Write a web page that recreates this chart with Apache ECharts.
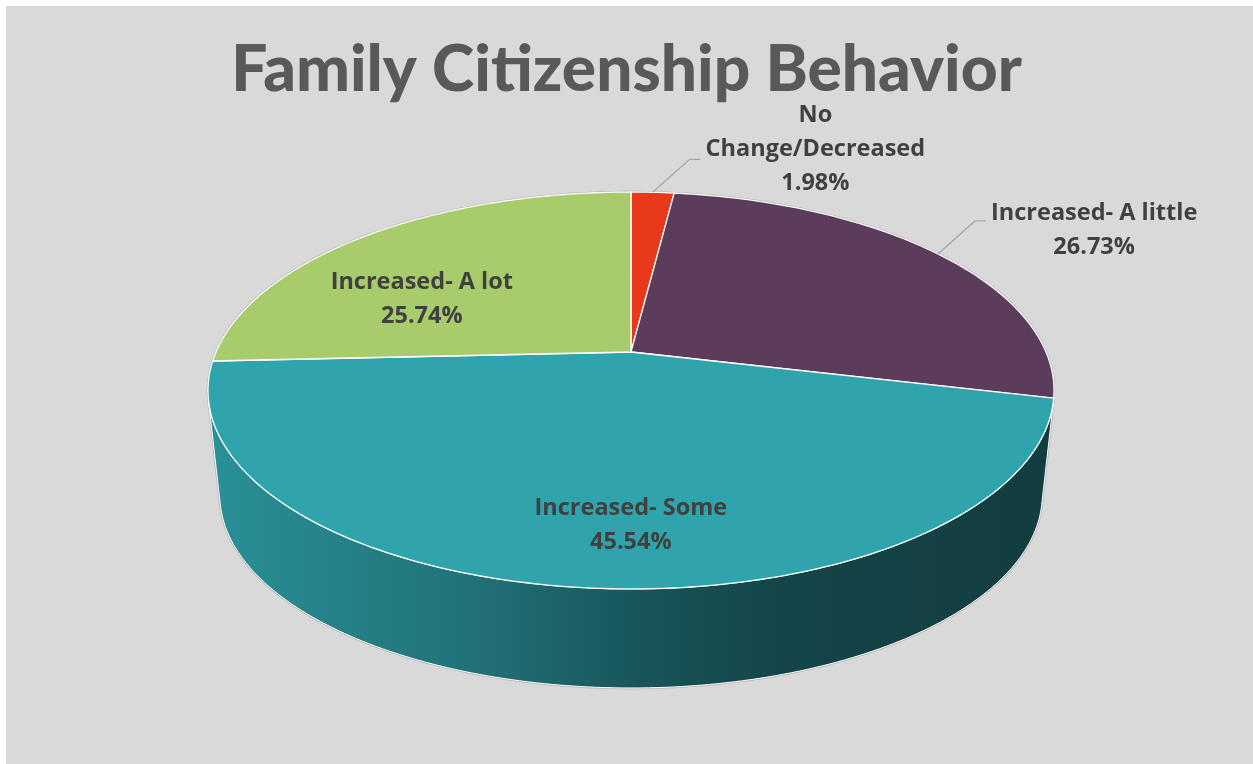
<!DOCTYPE html>
<html>
<head>
<meta charset="utf-8">
<title>Family Citizenship Behavior</title>
<script src="https://cdn.jsdelivr.net/npm/echarts@6/dist/echarts.min.js"></script>
<style>
  html, body { margin: 0; padding: 0; background: #ffffff; }
  #frame { position: absolute; left: 6px; top: 6px; right: 0; bottom: 0; background: #d9d9d9; }
  #chart { position: absolute; left: 0; top: 0; width: 1253px; height: 764px; }
</style>
</head>
<body>
<div id="frame"></div>
<div id="chart"></div>
<script>
// data
var categories = ['No Change/Decreased', 'Increased- A little', 'Increased- Some', 'Increased- A lot'];
var shares = [1.98, 26.73, 45.54, 25.74];
var sliceColors = ['#e8391c', '#5c3c5b', '#30a4ad', '#a8cc6c'];
var outsideLabel = [true, true, false, false];

// fake 3d pie: perspective ellipse + extruded wall
var PIE = { cx: 631, cy: 352, rx: 415, ry: 191, persp: 0.194, depth: 99, shrink: 0.972 };
var labelFont = 'bold 23.5px "Open Sans"';
var labelColor = '#404040';

var total = shares.reduce(function (a, b) { return a + b; }, 0);
var starts = [], ends = [];
var acc = 0;
shares.forEach(function (v) {
    starts.push(acc / total * 360);
    acc += v;
    ends.push(acc / total * 360);
});

// theta in degrees, clockwise from 12 o'clock
function topPt(theta, r) {
    var a = theta * Math.PI / 180;
    var X = r * Math.sin(a), Y = r * Math.cos(a);
    var d = 1 + PIE.persp * Y;
    return [PIE.cx + PIE.rx * X / d, PIE.cy - PIE.ry * Y / d];
}
var yFront = PIE.cy + PIE.ry / (1 - PIE.persp);
var vanishY = yFront + PIE.depth / (1 - PIE.shrink);
function bottomPt(theta) {
    var p = topPt(theta, 1);
    return [PIE.cx + PIE.shrink * (p[0] - PIE.cx), vanishY + PIE.shrink * (p[1] - vanishY)];
}
function rim(theta) { return topPt(theta, 1); }

function facing(theta) {
    var p = topPt(theta, 1), q = topPt(theta + 0.05, 1);
    var tx = q[0] - p[0], ty = q[1] - p[1];
    var dx = PIE.cx - p[0], dy = vanishY - p[1];
    return tx * dy - ty * dx < 0;
}
var wallFrom = 180, wallTo = 180;
while (facing(wallFrom - 0.1)) wallFrom -= 0.1;
while (facing(wallTo + 0.1)) wallTo += 0.1;

function arc(fn, a0, a1) {
    var n = Math.max(2, Math.ceil(Math.abs(a1 - a0)));
    var pts = [];
    for (var i = 0; i <= n; i++) pts.push(fn(a0 + (a1 - a0) * i / n));
    return pts;
}

function shade(hex, f) {
    var c = echarts.color.parse(hex);
    return 'rgb(' + Math.round(c[0] * f) + ',' + Math.round(c[1] * f) + ',' + Math.round(c[2] * f) + ')';
}
function wallFill(hex) {
    return new echarts.graphic.LinearGradient(PIE.cx - PIE.rx * 1.02, 0, PIE.cx + PIE.rx * 1.02, 0, [
        { offset: 0, color: shade(hex, 0.88) },
        { offset: 0.32, color: shade(hex, 0.69) },
        { offset: 0.52, color: shade(hex, 0.51) },
        { offset: 0.675, color: shade(hex, 0.42) },
        { offset: 1, color: shade(hex, 0.37) }
    ], true);
}

var ctx = document.createElement('canvas').getContext('2d');
ctx.font = labelFont;
function textW(s) { return ctx.measureText(s).width; }
function wrap(name, maxW) {
    if (textW(name) <= maxW) return [name];
    var words = name.split(' '), lines = [], cur = '';
    words.forEach(function (w) {
        var t = cur ? cur + ' ' + w : w;
        if (cur && textW(t) > maxW) { lines.push(cur); cur = w; } else { cur = t; }
    });
    if (cur) lines.push(cur);
    return lines;
}

function renderSlice(params, api) {
    var i = params.dataIndex;
    var s = starts[i], e = ends[i];
    var color = sliceColors[i];
    var children = [];
    var bboxPts = [];

    var lo = Math.max(s, wallFrom), hi = Math.min(e, wallTo);
    if (hi > lo) {
        var wall = arc(rim, lo, hi).concat(arc(bottomPt, hi, lo));
        bboxPts = bboxPts.concat(wall);
        children.push({
            type: 'polygon',
            shape: { points: wall },
            style: { fill: wallFill(color), stroke: '#ffffff', lineWidth: 1 }
        });
    }
    var face = [topPt(0, 0)].concat(arc(rim, s, e));
    bboxPts = bboxPts.concat(face);
    children.push({
        type: 'polygon',
        shape: { points: face },
        style: { fill: color, stroke: '#ffffff', lineWidth: 1.3 }
    });

    var lines = wrap(categories[i], 250);
    lines.push(shares[i].toFixed(2) + '%');
    var text = lines.join('\n');
    var mid = (s + e) / 2;
    var lx, ly;
    if (outsideLabel[i]) {
        var p0 = rim(mid);
        var side = p0[0] >= PIE.cx ? 1 : -1;
        var p1 = [p0[0] + side * 37, p0[1] - 33];
        var p2 = [p1[0] + side * 11, p1[1]];
        children.push({
            type: 'polyline',
            shape: { points: [p0, p1, p2] },
            style: { stroke: '#a6a6a6', lineWidth: 1.3, fill: null }
        });
        var bw = Math.max.apply(null, lines.map(textW));
        lx = p2[0] + side * (5 + bw / 2);
        ly = p2[1] + (lines.length > 2 ? -10 : 9);
    } else {
        var xs = bboxPts.map(function (p) { return p[0]; });
        var ys = bboxPts.map(function (p) { return p[1]; });
        lx = (Math.min.apply(null, xs) + Math.max.apply(null, xs)) / 2;
        ly = (Math.min.apply(null, ys) + Math.max.apply(null, ys)) / 2;
        ly += (hi > lo) ? 5 : 23;
    }
    children.push({
        type: 'text',
        x: lx,
        y: ly,
        style: {
            text: text,
            fill: labelColor,
            font: labelFont,
            align: 'center',
            verticalAlign: 'middle',
            lineHeight: 34
        }
    });
    return { type: 'group', children: children };
}

function renderOutline() {
    var pts = arc(rim, wallTo, wallFrom + 360).concat(arc(bottomPt, wallFrom, wallTo));
    return {
        type: 'polygon',
        shape: { points: pts },
        style: { fill: '#b8b8b8', stroke: '#b3b3b3', lineWidth: 2.5 }
    };
}

var chart = echarts.init(document.getElementById('chart'));
chart.setOption({
    animation: false,
    title: {
        text: 'Family Citizenship Behavior',
        left: 'center',
        top: 33,
        textStyle: { fontFamily: 'Lato', fontWeight: 900, fontSize: 64, color: '#595959' }
    },
    series: [
        {
            type: 'custom',
            coordinateSystem: 'none',
            silent: true,
            data: [0],
            renderItem: renderOutline
        },
        {
            type: 'custom',
            name: 'Family Citizenship Behavior',
            coordinateSystem: 'none',
            data: categories.map(function (c, i) { return { name: c, value: shares[i] }; }),
            renderItem: renderSlice
        }
    ]
});
</script>
</body>
</html>
